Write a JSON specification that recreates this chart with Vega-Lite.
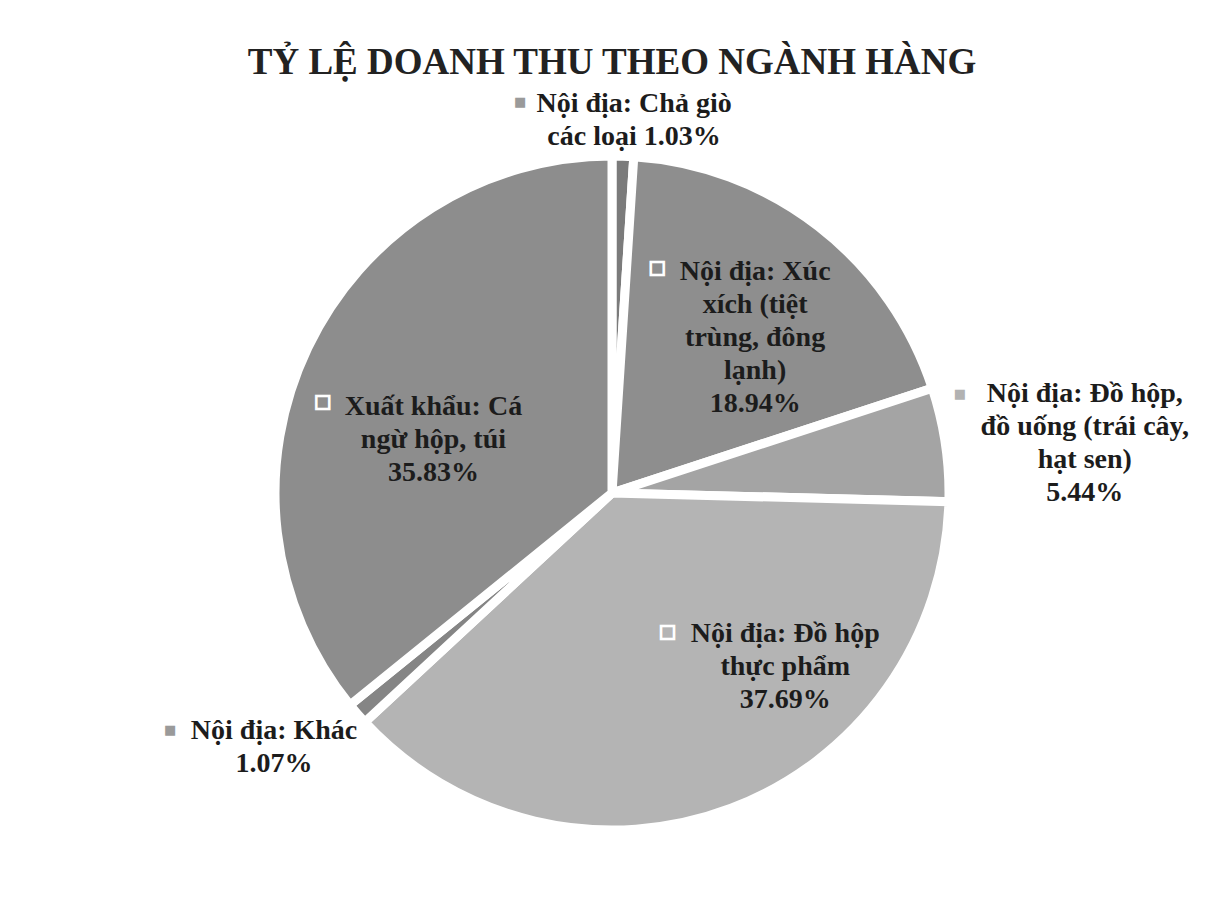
{
  "$schema": "https://vega.github.io/schema/vega-lite/v6.json",
  "width": 666,
  "height": 666,
  "autosize": {"type": "none"},
  "padding": {"left": 279, "top": 160, "right": 261, "bottom": 73},
  "background": "white",
  "view": {"stroke": null},
  "title": {
    "text": "TỶ LỆ DOANH THU THEO NGÀNH HÀNG",
    "font": "Liberation Serif",
    "fontSize": 37,
    "fontWeight": "bold",
    "color": "#222222",
    "anchor": "middle",
    "frame": "group",
    "baseline": "alphabetic",
    "offset": -106
  },
  "data": {
    "values": [
      {"idx": 1, "cat": "Nội địa: Chả giò các loại", "value": 1.03, "label": "Nội địa: Chả giò\ncác loại 1.03%"},
      {"idx": 2, "cat": "Nội địa: Xúc xích (tiệt trùng, đông lạnh)", "value": 18.94, "label": "Nội địa: Xúc\nxích (tiệt\ntrùng, đông\nlạnh)\n18.94%"},
      {"idx": 3, "cat": "Nội địa: Đồ hộp, đồ uống (trái cây, hạt sen)", "value": 5.44, "label": "Nội địa: Đồ hộp,\nđồ uống (trái cây,\nhạt sen)\n5.44%"},
      {"idx": 4, "cat": "Nội địa: Đồ hộp thực phẩm", "value": 37.69, "label": "Nội địa: Đồ hộp\nthực phẩm\n37.69%"},
      {"idx": 5, "cat": "Nội địa: Khác", "value": 1.07, "label": "Nội địa: Khác\n1.07%"},
      {"idx": 6, "cat": "Xuất khẩu: Cá ngừ hộp, túi", "value": 35.83, "label": "Xuất khẩu: Cá\nngừ hộp, túi\n35.83%"}
    ]
  },
  "encoding": {
    "theta": {"field": "value", "type": "quantitative", "stack": true},
    "order": {"field": "idx", "type": "quantitative"},
    "detail": {"field": "cat", "type": "nominal"}
  },
  "layer": [
    {
      "mark": {"type": "arc", "radius": 337, "stroke": "white", "strokeWidth": 9},
      "encoding": {
        "color": {
          "field": "cat",
          "type": "nominal",
          "legend": null,
          "scale": {
            "domain": ["Nội địa: Chả giò các loại", "Nội địa: Xúc xích (tiệt trùng, đông lạnh)", "Nội địa: Đồ hộp, đồ uống (trái cây, hạt sen)", "Nội địa: Đồ hộp thực phẩm", "Nội địa: Khác", "Xuất khẩu: Cá ngừ hộp, túi"],
            "range": ["#7b7b7b", "#8e8e8e", "#a4a4a4", "#b4b4b4", "#858585", "#8d8d8d"]
          }
        }
      }
    },
    {
      "mark": {"type": "text", "radius": 372, "dx": 10, "dy": -17, "align": "center", "baseline": "middle", "lineBreak": "\n", "font": "Liberation Serif", "fontWeight": "bold", "fontSize": 28, "lineHeight": 33, "color": "#1c1c1c"},
      "encoding": {"text": {"condition": {"test": "datum.idx == 1", "field": "label"}, "value": ""}}
    },
    {
      "mark": {"type": "text", "radius": 196, "dx": 23, "dy": -66, "align": "center", "baseline": "middle", "lineBreak": "\n", "font": "Liberation Serif", "fontWeight": "bold", "fontSize": 28, "lineHeight": 33, "color": "#1c1c1c"},
      "encoding": {"text": {"condition": {"test": "datum.idx == 2", "field": "label"}, "value": ""}}
    },
    {
      "mark": {"type": "text", "radius": 400, "dx": 77, "dy": -41, "align": "center", "baseline": "middle", "lineBreak": "\n", "font": "Liberation Serif", "fontWeight": "bold", "fontSize": 28, "lineHeight": 33, "color": "#1c1c1c"},
      "encoding": {"text": {"condition": {"test": "datum.idx == 3", "field": "label"}, "value": ""}}
    },
    {
      "mark": {"type": "text", "radius": 230, "dx": 92, "dy": -74, "align": "center", "baseline": "middle", "lineBreak": "\n", "font": "Liberation Serif", "fontWeight": "bold", "fontSize": 28, "lineHeight": 33, "color": "#1c1c1c"},
      "encoding": {"text": {"condition": {"test": "datum.idx == 4", "field": "label"}, "value": ""}}
    },
    {
      "mark": {"type": "text", "radius": 430, "dx": -13, "dy": -44, "align": "center", "baseline": "middle", "lineBreak": "\n", "font": "Liberation Serif", "fontWeight": "bold", "fontSize": 28, "lineHeight": 33, "color": "#1c1c1c"},
      "encoding": {"text": {"condition": {"test": "datum.idx == 5", "field": "label"}, "value": ""}}
    },
    {
      "mark": {"type": "text", "radius": 220, "dx": 20, "dy": 9, "align": "center", "baseline": "middle", "lineBreak": "\n", "font": "Liberation Serif", "fontWeight": "bold", "fontSize": 28, "lineHeight": 33, "color": "#1c1c1c"},
      "encoding": {"text": {"condition": {"test": "datum.idx == 6", "field": "label"}, "value": ""}}
    },
    {
      "mark": {"type": "text", "radius": 372, "dx": -104, "dy": -19, "align": "center", "baseline": "middle", "font": "DejaVu Sans", "fontSize": 13, "color": "#9a9a9a"},
      "encoding": {"text": {"condition": {"test": "datum.idx == 1", "value": "■"}, "value": ""}}
    },
    {
      "mark": {"type": "text", "radius": 196, "dx": -75, "dy": -70, "align": "center", "baseline": "middle", "font": "DejaVu Sans", "fontSize": 17, "color": "#8e8e8e", "stroke": "white", "strokeWidth": 2.5},
      "encoding": {"text": {"condition": {"test": "datum.idx == 2", "value": "■"}, "value": ""}}
    },
    {
      "mark": {"type": "text", "radius": 400, "dx": -48, "dy": -41, "align": "center", "baseline": "middle", "font": "DejaVu Sans", "fontSize": 13, "color": "#b2b2b2"},
      "encoding": {"text": {"condition": {"test": "datum.idx == 3", "value": "■"}, "value": ""}}
    },
    {
      "mark": {"type": "text", "radius": 230, "dx": -26, "dy": -76, "align": "center", "baseline": "middle", "font": "DejaVu Sans", "fontSize": 17, "color": "#b4b4b4", "stroke": "white", "strokeWidth": 2.5},
      "encoding": {"text": {"condition": {"test": "datum.idx == 4", "value": "■"}, "value": ""}}
    },
    {
      "mark": {"type": "text", "radius": 430, "dx": -117, "dy": -45, "align": "center", "baseline": "middle", "font": "DejaVu Sans", "fontSize": 13, "color": "#9a9a9a"},
      "encoding": {"text": {"condition": {"test": "datum.idx == 5", "value": "■"}, "value": ""}}
    },
    {
      "mark": {"type": "text", "radius": 220, "dx": -91, "dy": 4, "align": "center", "baseline": "middle", "font": "DejaVu Sans", "fontSize": 17, "color": "#8d8d8d", "stroke": "white", "strokeWidth": 2.5},
      "encoding": {"text": {"condition": {"test": "datum.idx == 6", "value": "■"}, "value": ""}}
    }
  ]
}
